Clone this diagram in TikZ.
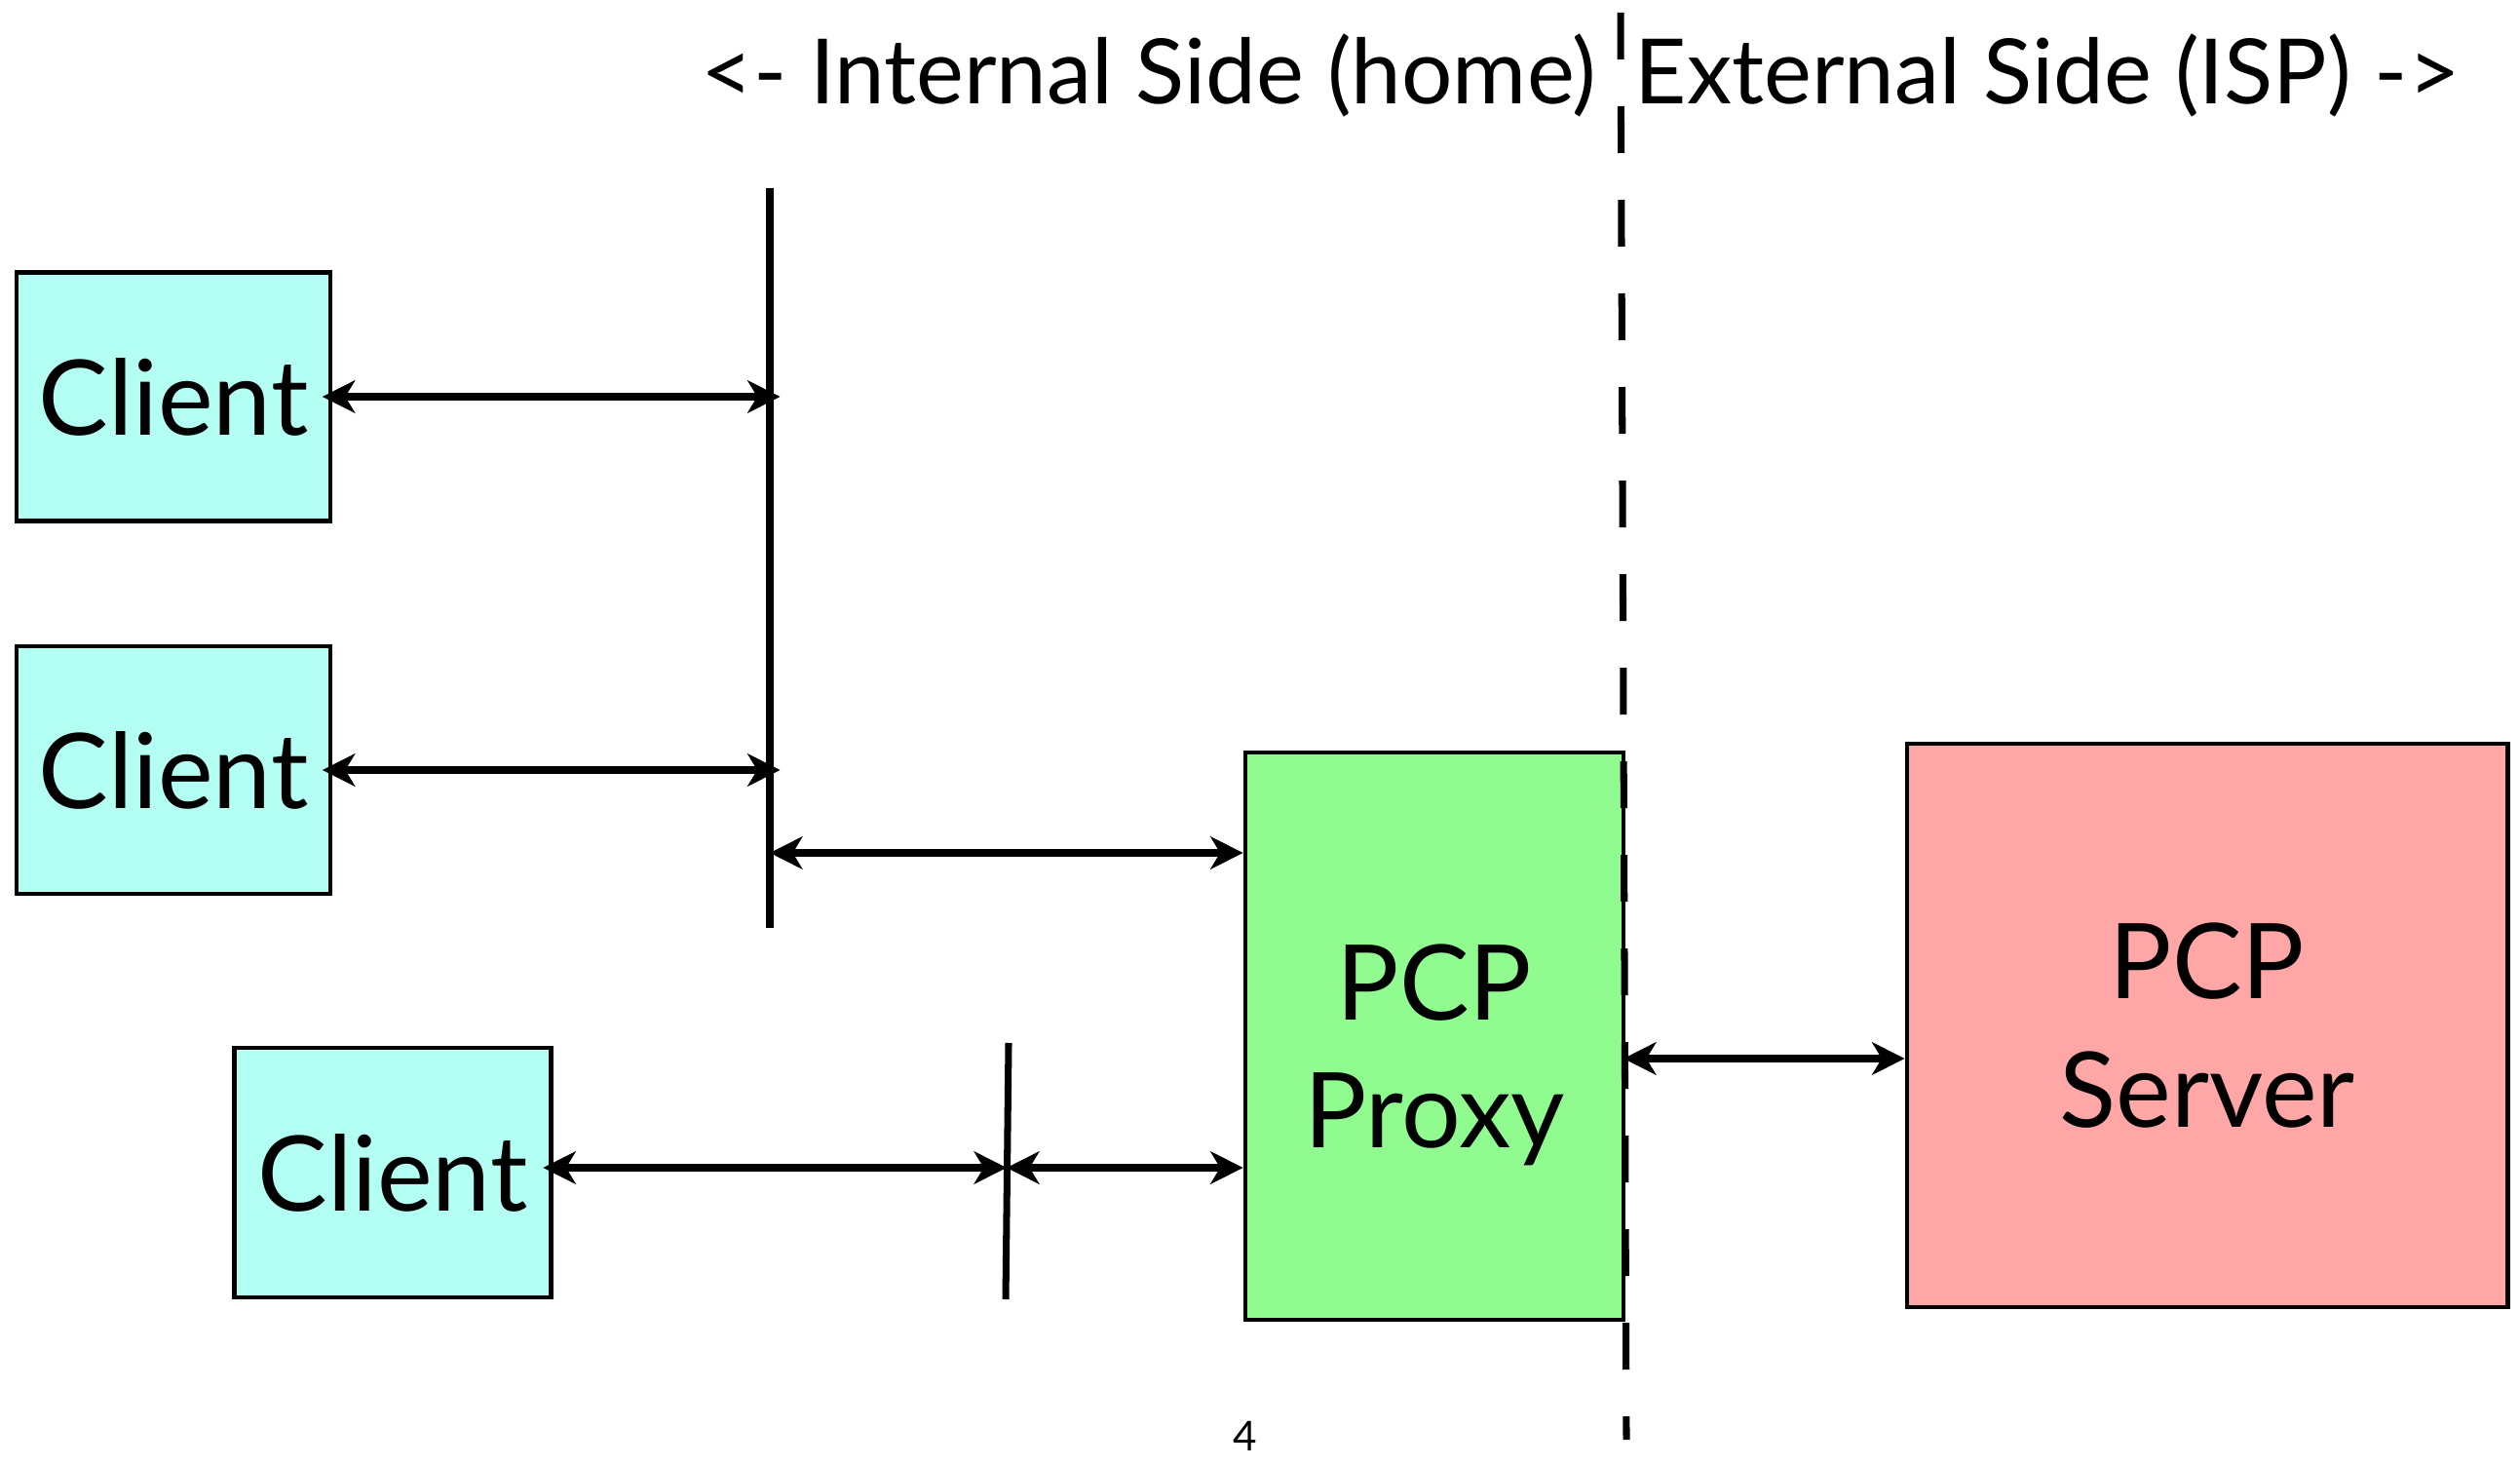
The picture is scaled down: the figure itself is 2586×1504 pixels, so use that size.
\documentclass[tikz,border=0pt]{standalone}
\usepackage{fontspec}
\setmainfont{Lato}
\usetikzlibrary{arrows.meta}

\definecolor{clientcol}{RGB}{179,255,243}
\definecolor{proxycol}{RGB}{144,252,144}
\definecolor{servercol}{RGB}{255,166,166}

\begin{document}
\begin{tikzpicture}[x=0.01cm,y=-0.01cm,
		box/.style={draw=black,line width=1.3pt,inner sep=0pt,align=center,
			font=\fontsize{30.5pt}{37.3pt}\selectfont},
		boxtext/.style={inner sep=0pt,align=center,font=\fontsize{30.5pt}{37.3pt}\selectfont},
		link/.style={line width=2pt,{Stealth[length=9.5pt,width=9.5pt,inset=2.8pt]}-{Stealth[length=9.5pt,width=9.5pt,inset=2.8pt]}},
		bus/.style={line width=2pt},
		heading/.style={inner sep=0pt,font=\fontsize{26.3pt}{30pt}\selectfont}]
			\useasboundingbox (0,0) rectangle (2586,1504);
			% boxes
			\node[box,fill=clientcol,minimum width=3.22cm,minimum height=2.55cm] (client1) at (178,407) {Client};
			\node[box,fill=clientcol,minimum width=3.22cm,minimum height=2.54cm] (client2) at (178,790) {Client};
			\node[box,fill=clientcol,minimum width=3.25cm,minimum height=2.56cm] (client3) at (403,1203) {Client};
			\node[box,fill=proxycol,minimum width=3.88cm,minimum height=5.82cm] (proxy) at (1472,1063) {};
			\node[boxtext] (proxytext) at ([yshift=-0.19cm]proxy.center) {PCP\\Proxy};
			\node[box,fill=servercol,minimum width=6.16cm,minimum height=5.78cm] (server) at (2265,1052) {PCP\\Server};
			% the two wires
			\coordinate (bus1top) at (790,193);
			\coordinate (bus1bot) at (790,952);
			\coordinate (bus2top) at (1035,1070);
			\coordinate (bus2bot) at (1032,1333);
			\draw[bus] (bus1top) -- (bus1bot);
			\draw[bus] (bus2top) -- (bus2bot);
			% links
			\draw[link,shorten <=-3pt,shorten >=-3pt] (client1.east) -- (client1.east -| bus1top);
			\draw[link,shorten <=-3pt,shorten >=-3pt] (client2.east) -- (client2.east -| bus1top);
			\coordinate (tap1) at (790,875);
			\draw[link] (tap1) -- (tap1 -| proxy.west);
			\coordinate (tap2) at (1033,1198);
			\draw[link,shorten <=-3pt] (tap2 -| client3.east) -- (tap2);
			\draw[link] (tap2) -- (tap2 -| proxy.west);
			\coordinate (tap3) at (1666,1086);
			\draw[link] (tap3) -- (tap3 -| server.west);
			% home / ISP border
			\coordinate (divtop) at (1663,13);
			\coordinate (divbot) at (1669,1477);
			\draw[line width=2pt,dash pattern=on 13.65pt off 13.65pt] (divtop) -- (divbot);
			\node[heading,anchor=base east] (inside) at (1639,107) {<- Internal Side (home)};
			\node[heading,anchor=base west] (outside) at (1677,107) {External Side (ISP) ->};
			\node[inner sep=0pt,anchor=north,font=\fontsize{12pt}{14pt}\selectfont] (pagenum) at (1278,1458) {4};
		\end{tikzpicture}
\end{document}
